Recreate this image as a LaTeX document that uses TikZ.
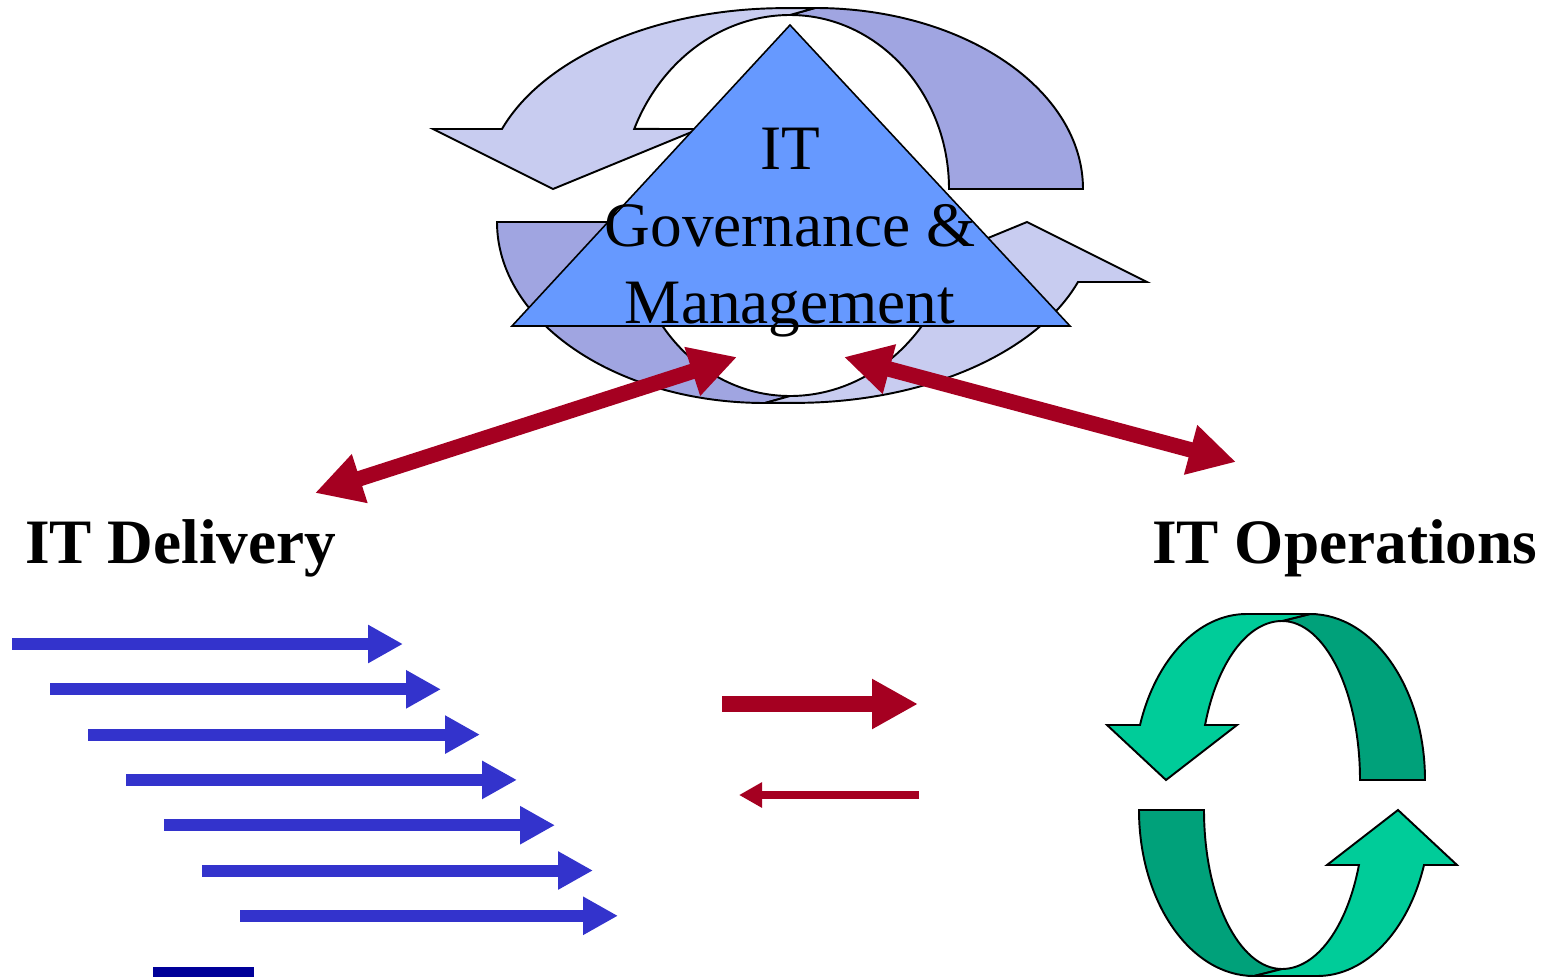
\documentclass[tikz,border=0pt]{standalone}
\usepackage{fontspec}
\setmainfont{Liberation Serif}
\usepackage{tikz}
\usetikzlibrary{arrows.meta,calc}

\definecolor{govblue}{RGB}{102,153,255}
\definecolor{ringlight}{RGB}{200,204,240}
\definecolor{ringdark}{RGB}{160,165,225}
\definecolor{linkred}{RGB}{165,0,33}
\definecolor{taskblue}{RGB}{51,51,204}
\definecolor{barblue}{RGB}{0,0,153}
\definecolor{cyclelight}{RGB}{0,204,153}
\definecolor{cycledark}{RGB}{0,161,122}

\tikzset{
  ribbon/.style={draw=black,line width=1.1pt,line join=miter},
  link/.style={linkred,line width=3.1mm,
    arrows={Triangle[length=9.4mm,width=9.6mm]-Triangle[length=9.4mm,width=9.6mm]}},
  task/.style={taskblue,line width=2.4mm,arrows={-Triangle[length=7mm,width=7.2mm]}},
  label/.style={font=\fontsize{36}{43}\selectfont\bfseries,inner sep=0pt,anchor=base west}
}

\begin{document}
\begin{tikzpicture}
  \useasboundingbox (0,0) rectangle (31.02,-19.54);

  % circular arrows behind the governance triangle
  \coordinate (ring) at (15.8,-4.11);
  \foreach \r in {0,180}{
    \begin{scope}[rotate around={\r:(ring)}]
      \draw[ribbon,fill=ringdark] (16.3,-0.16)
        arc[start angle=90,end angle=0,x radius=5.36,y radius=3.62]
        -- (18.98,-3.78)
        arc[start angle=0,end angle=90,x radius=3.18,y radius=3.48] -- cycle;
      \draw[ribbon,fill=ringlight] (10.04,-2.58)
        arc[start angle=160.6,end angle=90,x radius=6,y radius=3.62]
        -- (16.3,-0.16) -- (15.8,-0.30)
        arc[start angle=90,end angle=156.4,x radius=3.4,y radius=3.8]
        -- (13.98,-2.58) -- (11.06,-3.78) -- (8.66,-2.58) -- cycle;
    \end{scope}
  }

  % governance triangle
  \draw[fill=govblue,line width=0.9pt] (15.8,-0.5) -- (10.24,-6.52) -- (21.4,-6.52) -- cycle;
  \node[font=\fontsize{36}{43.6}\selectfont,align=center,inner sep=0pt,anchor=north]
    (gov) at (15.8,-2.56) {IT\\Governance \&\\Management};

  % links to delivery and operations
  \coordinate (gov-l) at (14.74,-7.14);
  \coordinate (gov-r) at (16.88,-7.14);
  \coordinate (del-in) at (6.3,-9.86);
  \coordinate (ops-in) at (24.72,-9.24);
  \draw[link] (del-in) -- (gov-l);
  \draw[link] (gov-r) -- (ops-in);

  \node[label] (delivery) at (0.5,-11.27) {IT Delivery};
  \node[label] (operations) at (23.04,-11.27) {IT Operations};

  % delivery stream
  \foreach \i/\e in {0/403,1/441,2/480,3/517,4/555,5/593,6/618}{
    \coordinate (t\i) at ({0.24+0.76*\i},{-12.88-0.906*\i});
    \coordinate (h\i) at ({\e/50},{-12.88-0.906*\i});
    \draw[task] (t\i) -- (h\i);
  }
  \fill[barblue] (3.06,-19.34) rectangle (5.08,-19.54);

  % hand-over between delivery and operations
  \coordinate (fwd-a) at (14.44,-14.08);
  \coordinate (fwd-b) at (18.36,-14.08);
  \coordinate (back-a) at (18.38,-15.9);
  \coordinate (back-b) at (14.78,-15.9);
  \draw[linkred,line width=3.2mm,-{Triangle[length=9.2mm,width=9.4mm]}] (fwd-a) -- (fwd-b);
  \draw[linkred,line width=1.6mm,-{Triangle[length=4.6mm,width=4.8mm]}] (back-a) -- (back-b);

  % operations cycle
  \coordinate (cycle) at (25.64,-15.9);
  \foreach \r in {0,180}{
    \begin{scope}[rotate around={\r:(cycle)}]
      \draw[ribbon,fill=cycledark] (26.2,-12.28)
        arc[start angle=90,end angle=0,x radius=2.3,y radius=3.32]
        -- (27.2,-15.6)
        arc[start angle=0,end angle=90,x radius=1.56,y radius=3.18] -- cycle;
      \draw[ribbon,fill=cyclelight] (22.8,-14.5)
        arc[start angle=160.65,end angle=90,x radius=2.26,y radius=3.32]
        -- (26.2,-12.28) -- (25.64,-12.42)
        arc[start angle=90,end angle=159.76,x radius=1.64,y radius=3.18]
        -- (24.74,-14.5) -- (23.32,-15.6) -- (22.14,-14.5) -- cycle;
    \end{scope}
  }
\end{tikzpicture}
\end{document}
